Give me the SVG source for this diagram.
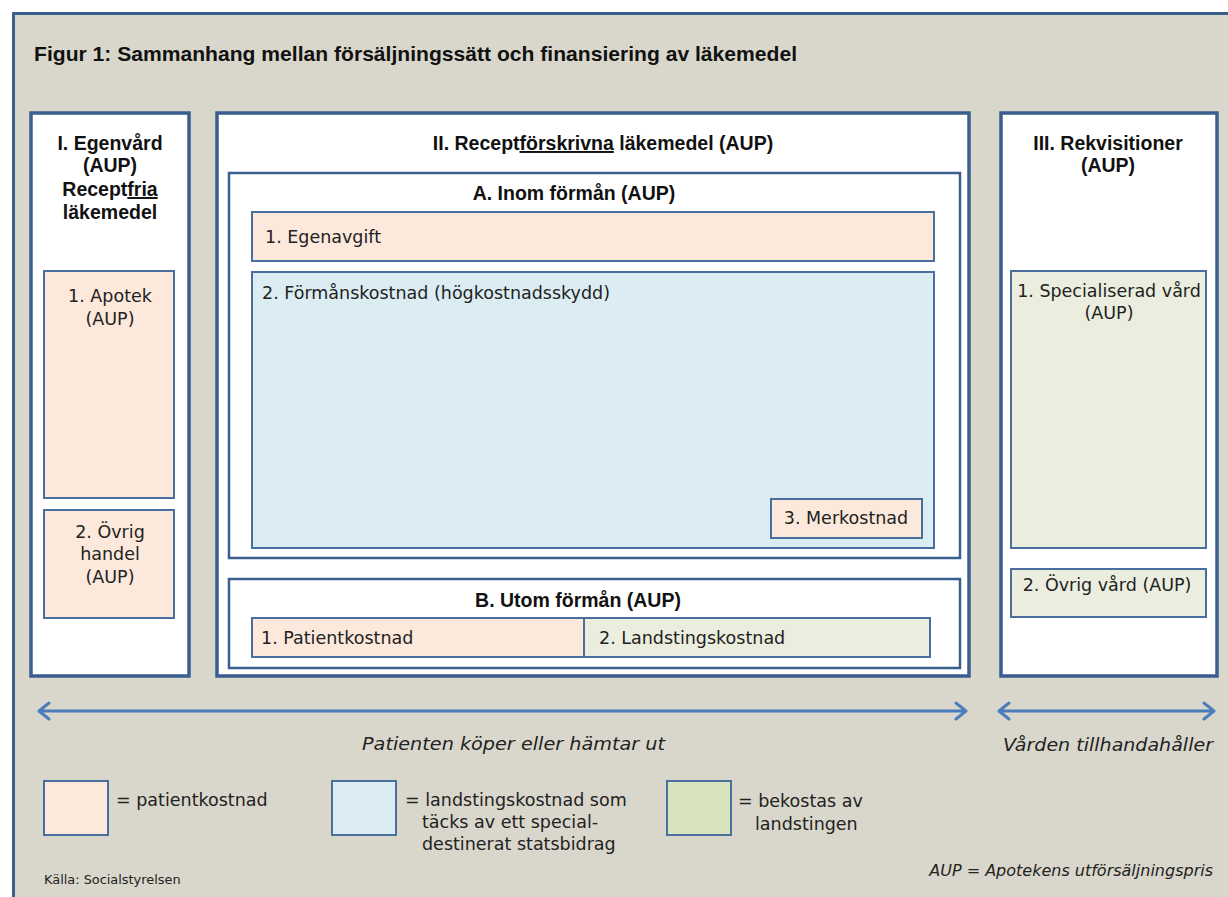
<svg xmlns="http://www.w3.org/2000/svg" width="1228" height="897" viewBox="0 0 1228 897">
<defs>
<style>
.bg{fill:#D9D7CB;stroke:#3A5F8F;stroke-width:3}
.big{fill:#FFFFFF;stroke:#3A5F8F;stroke-width:3.5}
.mid{fill:#FFFFFF;stroke:#3A5F8F;stroke-width:2.5}
.pink{fill:#FCE9DB;stroke:#4A6E9E;stroke-width:2}
.blue{fill:#DBEDF3;stroke:#4A6E9E;stroke-width:2}
.green{fill:#EBEEDE;stroke:#4A6E9E;stroke-width:2}
.lgreen{fill:#D7E4BD;stroke:#4A6E9E;stroke-width:2}
.h{font-family:"Liberation Sans",Arial,sans-serif;font-weight:bold;font-size:19.5px;fill:#111}
.t{font-family:"DejaVu Sans","Liberation Sans",sans-serif;font-size:17.5px;fill:#222}
.i{font-family:"DejaVu Sans","Liberation Sans",sans-serif;font-style:italic;font-size:18px;fill:#222}
.s{font-family:"DejaVu Sans","Liberation Sans",sans-serif;font-size:12.9px;fill:#222}
.arr{fill:none;stroke:#4A7EBB;stroke-width:3;stroke-linecap:round;stroke-linejoin:round}
.c{text-anchor:middle}
</style>
</defs>
<rect x="0" y="0" width="1228" height="897" fill="#FFFFFF"/>
<rect class="bg" x="13.5" y="13.5" width="1300" height="1000"/>
<text class="h" x="34" y="61" style="font-size:21px" textLength="763" lengthAdjust="spacingAndGlyphs">Figur 1: Sammanhang mellan försäljningssätt och finansiering av läkemedel</text>

<g id="egenvard">
<rect class="big" x="31" y="113" width="158" height="563"/>
<text class="h c" x="110" y="150">I. Egenvård</text>
<text class="h c" x="110" y="172">(AUP)</text>
<text class="h c" x="110" y="196">Recept<tspan text-decoration="underline">fria</tspan></text>
<text class="h c" x="110" y="219">läkemedel</text>
</g>
<g id="apotek">
<rect class="pink" x="44" y="271" width="130" height="227"/>
<text class="t c" x="110" y="302">1. Apotek</text>
<text class="t c" x="110" y="325">(AUP)</text>
</g>
<g id="ovrig-handel">
<rect class="pink" x="44" y="510" width="130" height="108"/>
<text class="t c" x="110" y="538">2. Övrig</text>
<text class="t c" x="110" y="560">handel</text>
<text class="t c" x="110" y="583">(AUP)</text>
</g>

<g id="receptforskrivna">
<rect class="big" x="217" y="113" width="752" height="563"/>
<text class="h c" x="603" y="150">II. Recept<tspan text-decoration="underline">förskrivna</tspan> läkemedel (AUP)</text>
</g>
<g id="inom-forman">
<rect class="mid" x="229" y="173" width="731" height="385"/>
<text class="h c" x="574" y="200">A. Inom förmån (AUP)</text>
</g>
<g id="egenavgift">
<rect class="pink" x="252" y="212" width="682" height="49"/>
<text class="t" x="265" y="243">1. Egenavgift</text>
</g>
<g id="formanskostnad">
<rect class="blue" x="252" y="272" width="682" height="276"/>
<text class="t" x="262" y="299">2. Förmånskostnad (högkostnadsskydd)</text>
</g>
<g id="merkostnad">
<rect class="pink" x="771" y="499" width="151" height="39"/>
<text class="t c" x="846" y="524">3. Merkostnad</text>
</g>
<g id="utom-forman">
<rect class="mid" x="229" y="579" width="731" height="89"/>
<text class="h c" x="578" y="607">B. Utom förmån (AUP)</text>
</g>
<g id="patientkostnad">
<rect class="pink" x="252" y="618" width="332" height="39"/>
<text class="t" x="261" y="644">1. Patientkostnad</text>
</g>
<g id="landstingskostnad">
<rect class="green" x="584" y="618" width="346" height="39"/>
<text class="t" x="599" y="644">2. Landstingskostnad</text>
</g>

<g id="rekvisitioner">
<rect class="big" x="1001" y="113" width="216" height="563"/>
<text class="h c" x="1108" y="150">III. Rekvisitioner</text>
<text class="h c" x="1108" y="172">(AUP)</text>
</g>
<g id="specialiserad">
<rect class="green" x="1011" y="271" width="195" height="277"/>
<text class="t c" x="1109" y="297">1. Specialiserad vård</text>
<text class="t c" x="1109" y="319">(AUP)</text>
</g>
<g id="ovrig-vard">
<rect class="green" x="1011" y="569" width="195" height="48"/>
<text class="t c" x="1107" y="591">2. Övrig vård (AUP)</text>
</g>

<g id="connectors">
<path class="arr" d="M39,711 H966 M49,703 L39,711 L49,719 M956,703 L966,711 L956,719"/>
<path class="arr" d="M999,711 H1214 M1009,703 L999,711 L1009,719 M1204,703 L1214,711 L1204,719"/>
</g>
<text class="i" x="362" y="750" textLength="303" lengthAdjust="spacingAndGlyphs">Patienten köper eller hämtar ut</text>
<text class="i" x="1003" y="751" textLength="210" lengthAdjust="spacingAndGlyphs">Vården tillhandahåller</text>

<g id="legend-patient">
<rect class="pink" x="44" y="781" width="64" height="54"/>
<text class="t" x="116" y="806">= patientkostnad</text>
</g>
<g id="legend-landsting">
<rect class="blue" x="332" y="781" width="64" height="54"/>
<text class="t" x="405" y="806">= landstingskostnad som</text>
<text class="t" x="422" y="828">täcks av ett special-</text>
<text class="t" x="422" y="850">destinerat statsbidrag</text>
</g>
<g id="legend-bekostas">
<rect class="lgreen" x="667" y="781" width="64" height="54"/>
<text class="t" x="738" y="807">= bekostas av</text>
<text class="t" x="755" y="830">landstingen</text>
</g>
<text class="s" x="44" y="884">Källa: Socialstyrelsen</text>
<text class="i" x="1213" y="876" style="font-size:16px" text-anchor="end">AUP = Apotekens utförsäljningspris</text>
</svg>
